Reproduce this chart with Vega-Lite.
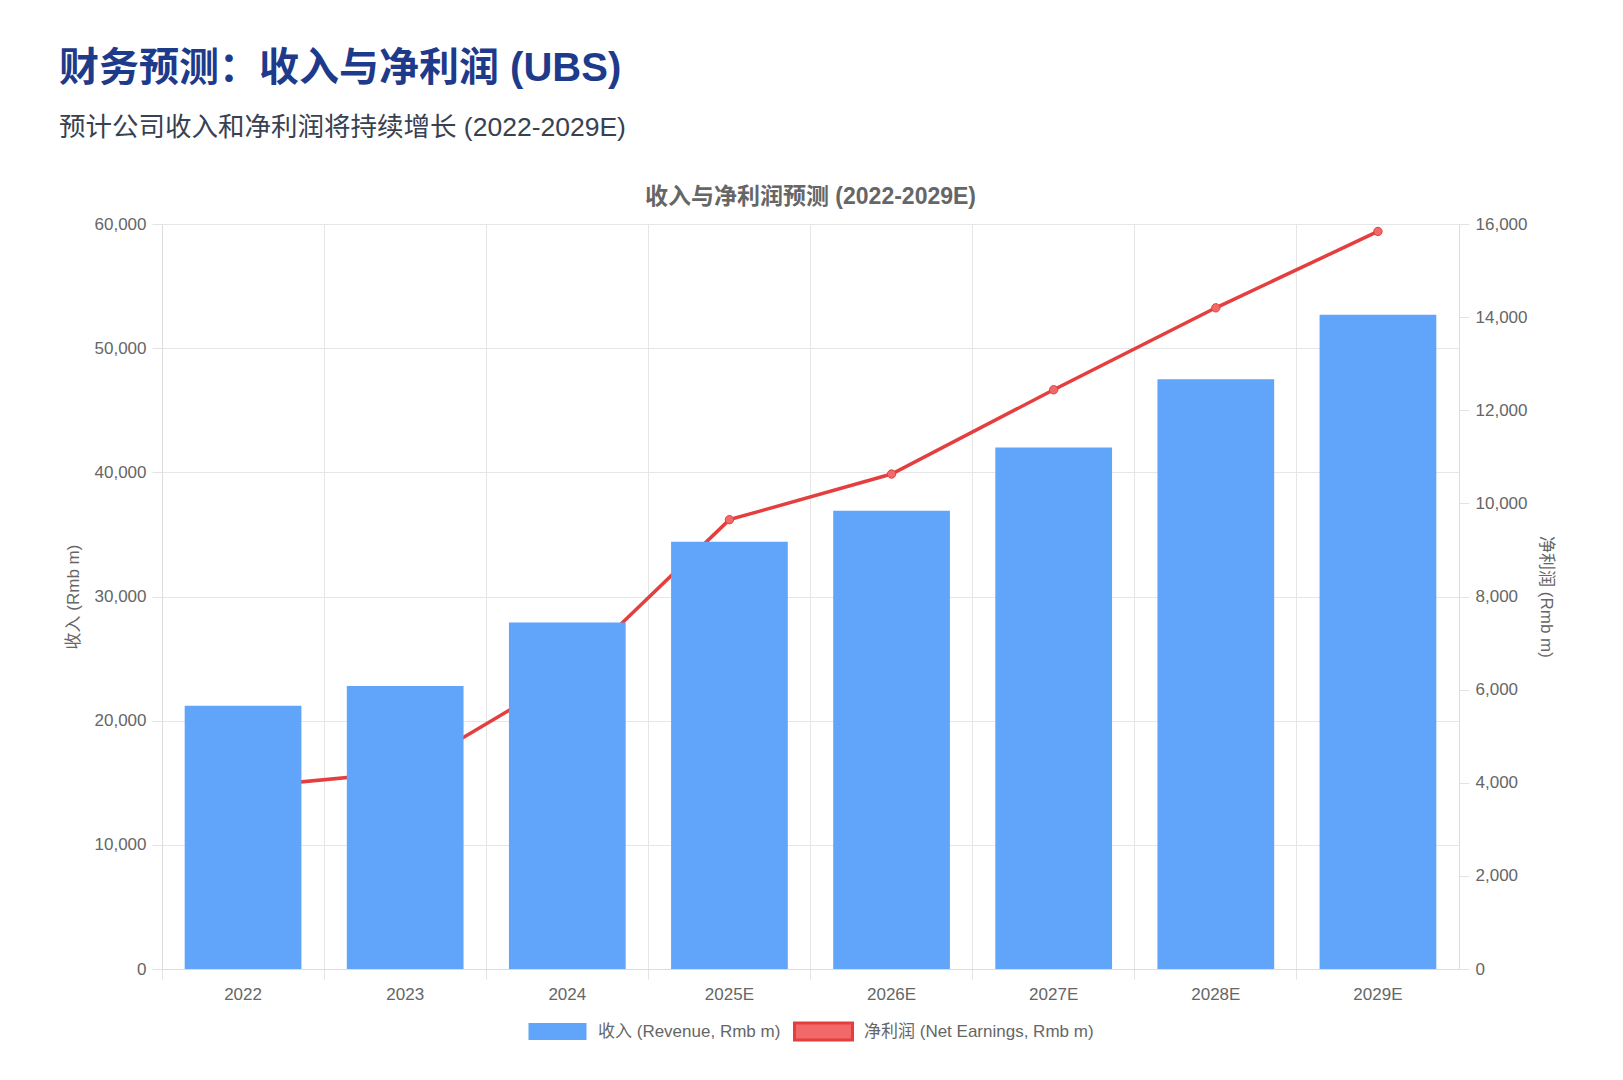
{
  "$schema": "https://vega.github.io/schema/vega-lite/v6.json",
  "background": "white",
  "padding": {"left": 59, "top": 48, "right": 40, "bottom": 10},
  "title": {
    "text": "财务预测：收入与净利润 (UBS)",
    "subtitle": "预计公司收入和净利润将持续增长 (2022-2029E)",
    "anchor": "start",
    "frame": "group",
    "dx": -103,
    "fontSize": 40,
    "fontWeight": "bold",
    "color": "#1e3a8a",
    "subtitleFontSize": 26.5,
    "subtitleColor": "#374151",
    "subtitleFontWeight": "normal",
    "subtitlePadding": 26,
    "offset": 45
  },
  "vconcat": [
    {
      "width": 1297,
      "height": 745,
      "title": {
        "text": "收入与净利润预测 (2022-2029E)",
        "anchor": "middle",
        "fontSize": 23,
        "fontWeight": "bold",
        "color": "#666666",
        "offset": 6
      },
      "data": {
        "values": [
          {"year": "2022", "revenue": 21200, "earnings": 3900},
          {"year": "2023", "revenue": 22800, "earnings": 4230},
          {"year": "2024", "revenue": 27900, "earnings": 6300},
          {"year": "2025E", "revenue": 34400, "earnings": 9650},
          {"year": "2026E", "revenue": 36900, "earnings": 10630},
          {"year": "2027E", "revenue": 42000, "earnings": 12440},
          {"year": "2028E", "revenue": 47500, "earnings": 14200},
          {"year": "2029E", "revenue": 52700, "earnings": 15840}
        ]
      },
      "encoding": {
        "x": {
          "field": "year",
          "type": "ordinal",
          "sort": null,
          "scale": {"paddingInner": 0, "paddingOuter": 0},
          "axis": {
            "title": null,
            "bandPosition": 0,
            "labelAngle": 0,
            "labelOverlap": false,
            "grid": true,
            "tickSize": 10,
            "labelPadding": 7
          }
        }
      },
      "layer": [
        {
          "encoding": {
            "y": {
              "field": "earnings",
              "type": "quantitative",
              "scale": {"domain": [0, 16000], "nice": false},
              "axis": {
                "orient": "right",
                "title": "净利润 (Rmb m)",
                "values": [0, 2000, 4000, 6000, 8000, 10000, 12000, 14000, 16000],
                "format": ",d",
                "grid": false,
                "tickSize": 10,
                "labelPadding": 6,
                "titlePadding": 10
              }
            }
          },
          "layer": [
            {
              "mark": {"type": "line", "strokeWidth": 3.5, "color": "#e53e3e"}
            },
            {
              "mark": {"type": "point", "filled": true, "fill": "#f26969", "stroke": "#e53e3e", "strokeWidth": 1, "size": 70, "opacity": 1}
            }
          ]
        },
        {
          "mark": {"type": "bar", "width": {"band": 0.72}},
          "encoding": {
            "y": {
              "field": "revenue",
              "type": "quantitative",
              "scale": {"domain": [0, 60000], "nice": false},
              "axis": {
                "orient": "left",
                "title": "收入 (Rmb m)",
                "values": [0, 10000, 20000, 30000, 40000, 50000, 60000],
                "format": ",d",
                "grid": true,
                "tickSize": 10,
                "labelPadding": 6,
                "titlePadding": 12
              }
            },
            "color": {
              "datum": "收入 (Revenue, Rmb m)",
              "scale": {
                "domain": ["收入 (Revenue, Rmb m)", "净利润 (Net Earnings, Rmb m)"],
                "range": ["#60a5fa", "#f26969"]
              },
              "legend": {
                "title": null,
                "orient": "none",
                "direction": "horizontal",
                "legendX": 365,
                "legendY": 777,
                "symbolType": "M-1,-0.293H1V0.293H-1Z",
                "symbolSize": 3364,
                "symbolStrokeWidth": 3,
                "labelOffset": 10,
                "labelLimit": 400,
                "columnPadding": 7,
                "encode": {
                  "symbols": {
                    "update": {
                      "size": {"value": 3364},
                      "fill": {"signal": "datum.value === '收入 (Revenue, Rmb m)' ? '#60a5fa' : '#f26969'"},
                      "stroke": {"signal": "datum.value === '收入 (Revenue, Rmb m)' ? 'transparent' : '#e53e3e'"},
                      "strokeWidth": {"value": 3},
                      "opacity": {"value": 1}
                    }
                  }
                }
              }
            }
          }
        }
      ],
      "resolve": {"scale": {"y": "independent"}}
    }
  ],
  "config": {
    "font": "Liberation Sans, Noto Sans CJK SC, sans-serif",
    "view": {"stroke": null},
    "axis": {
      "labelColor": "#666666",
      "labelFontSize": 17,
      "titleColor": "#666666",
      "titleFontSize": 17,
      "titleFontWeight": "normal",
      "gridColor": "#e6e6e6",
      "domainColor": "#dcdcdc",
      "tickColor": "#e3e3e3"
    },
    "legend": {
      "labelColor": "#666666",
      "labelFontSize": 17
    }
  }
}
